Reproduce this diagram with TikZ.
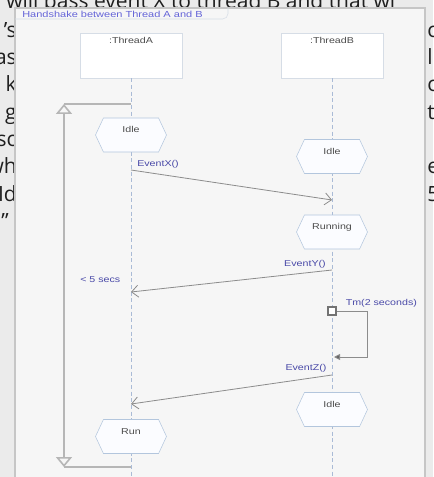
\documentclass[tikz,border=0pt]{standalone}
\usepackage{fontspec}
\usetikzlibrary{positioning,shapes.symbols,arrows.meta}
\newfontfamily\umlfont[FakeStretch=1.25]{Liberation Sans}
\newfontfamily\pagefont{Open Sans}
\definecolor{pagebg}{HTML}{EBEBEB}
\definecolor{panelfill}{HTML}{F6F6F6}
\definecolor{panelline}{HTML}{C6C6C6}
\definecolor{boxline}{HTML}{D6DDE6}
\definecolor{stateline}{HTML}{B3C6DD}
\definecolor{statefill}{HTML}{FBFCFF}
\definecolor{lifeblue}{HTML}{AABBD6}
\definecolor{msggray}{HTML}{8C8C8C}
\definecolor{durgray}{HTML}{B6B6B6}
\definecolor{labelblue}{HTML}{4A4AA8}
\definecolor{titleblue}{HTML}{6464D8}
\tikzset{
    umltext/.style={font=\umlfont\fontsize{6.4}{7}\selectfont, inner sep=0pt},
    lifebox/.style={draw=boxline, fill=white, minimum width=76.5pt, minimum height=33.75pt, inner sep=0pt},
    statebox/.style={signal, signal to=east and west, signal pointer angle=130,
        draw=stateline, fill=statefill, minimum width=53.25pt, minimum height=25.5pt,
        inner sep=0pt, text depth=8pt, umltext, text=black!70},
    msglabel/.style={umltext, text=labelblue},
    lifeline/.style={draw=lifeblue, dash pattern=on 3pt off 2pt, line width=0.5pt},
    msg/.style={draw=msggray, line width=0.6pt, -{Straight Barb[length=5pt, width=9pt]}},
    durline/.style={draw=durgray, line width=1.2pt},
    pagetext/.style={font=\pagefont\fontsize{15.75}{18}\selectfont, text=black!88, inner sep=0pt}
}
\begin{document}
\begin{tikzpicture}[x=0.75pt, y=-0.75pt]
    \useasboundingbox (0,0) rectangle (433,477);
    \clip (0,0) rectangle (433,477);
    \pgfmathsetmacro{\xa}{131}
    \pgfmathsetmacro{\xb}{332}
    % Page behind the diagram
    \fill[pagebg] (0,0) rectangle (433,477);
    \node[pagetext, anchor=base west] (topline) at (6,9) {will pass event X to thread B and that wi};
    \foreach \i/\t in {2/{’s},3/as,4/k,5/g,6/sc,7/wh,8/Id}{
      \node[pagetext, anchor=base east] (left\i) at (17,{10+(\i-1)*27.3}) {\t};
      }
    \node[pagetext, anchor=base east] (left9) at (9,{10+8*27.3}) {”};
    \foreach \i/\t in {2/c,3/l,4/co,5/te,7/e,8/5}{
      \node[pagetext, anchor=base west] (right\i) at (427,{10+(\i-1)*27.3}) {\t};
      }
    % Diagram frame
    \fill[panelfill] (15,8) rectangle (425,480);
    \draw[panelline, line width=0.9pt] (15,480) -- (15,8) -- (425,8) -- (425,480);
    \draw[boxline, rounded corners=4pt] (15,19) -| (228,8);
    \node[umltext, text=titleblue, anchor=west, font=\umlfont\fontsize{6.6}{7}\selectfont] (title) at (22,14) {Handshake between Thread A and B};
    % Lifeline heads
    \node[lifebox] (thA) at (\xa,55.5) {};
    \node[lifebox] (thB) at (\xb,55.5) {};
    \node[umltext, text=black!70, below=3pt of thA.north] (thAname) {:ThreadA};
    \node[umltext, text=black!70, below=3pt of thB.north] (thBname) {:ThreadB};
    \coordinate (endA) at (\xa,477);
    \coordinate (endB) at (\xb,477);
    \draw[lifeline] (thA.south) -- (endA);
    \draw[lifeline] (thB.south) -- (endB);
    % Duration constraint
    \coordinate (durTop) at (\xa,104);
    \coordinate (durTopL) at (64,104);
    \coordinate (durBot) at (\xa,467);
    \coordinate (durBotL) at (64,467);
    \draw[durline] (durTop) -- (durTopL);
    \draw[durline, {Triangle[open, length=7.5pt, width=12pt]}-{Triangle[open, length=7.5pt, width=12pt]}] (durTopL) -- (durBotL);
    \draw[durline] (durBotL) -- (durBot);
    \node[msglabel, anchor=west] (durLab) at (80,280) {< 5 secs};
    % States
    \node[statebox] (idleA) at (\xa,135) {Idle};
    \node[statebox] (idleB) at (\xb,156.5) {Idle};
    \node[statebox] (runB) at (\xb,232) {Running};
    \node[statebox] (idleB2) at (\xb,409.5) {Idle};
    \node[statebox] (runA) at (\xa,436.5) {Run};
    % Messages
    \coordinate (xOut) at (\xa,170);
    \coordinate (xIn) at (\xb,200);
    \draw[msg] (xOut) -- (xIn);
    \node[msglabel, above right=1pt and 4.5pt of xOut] (xLab) {EventX()};
    \coordinate (yOut) at (\xb,270);
    \coordinate (yIn) at (\xa,292);
    \draw[msg] (yOut) -- (yIn);
    \node[msglabel, above left=1pt and 4.5pt of yOut] (yLab) {EventY()};
    \coordinate (zOut) at (\xb,375);
    \coordinate (zIn) at (\xa,404);
    \draw[msg] (zOut) -- (zIn);
    \node[msglabel, above left=2pt and 4pt of zOut] (zLab) {EventZ()};
    % Timer
    \node[draw=black!55, fill=white, line width=0.8pt, minimum size=6pt, inner sep=0pt] (tmr) at (\xb,311) {};
    \node[msglabel, above right=2.5pt and 6.75pt of tmr.east] (tmrLab) {Tm(2 seconds)};
    \coordinate (tmrIn) at (\xb+2,357);
    \draw[msggray, line width=0.6pt, -{Triangle[length=4.5pt, width=4.5pt, fill=black!60]}] (tmr.east) -- ++(31,0) |- (tmrIn);
\end{tikzpicture}
\end{document}
